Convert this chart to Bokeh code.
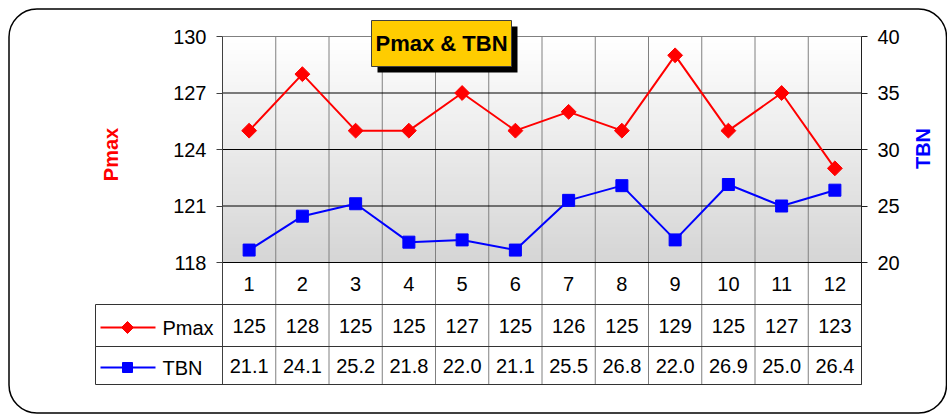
import numpy as np
from bokeh.plotting import figure
from bokeh.models import (Range1d, LinearAxis, FixedTicker, Label, BoxAnnotation,
                          ColumnDataSource)
from bokeh.core.properties import value
from bokeh.embed import file_html
from bokeh.resources import INLINE

# ---------------- data ----------------
categories = ["1", "2", "3", "4", "5", "6", "7", "8", "9", "10", "11", "12"]
pmax = [125, 128, 125, 125, 127, 125, 126, 125, 129, 125, 127, 123]
tbn = [21.1, 24.1, 25.2, 21.8, 22.0, 21.1, 25.5, 26.8, 22.0, 26.9, 25.0, 26.4]
pmax_ticks = [118, 121, 124, 127, 130]
tbn_ticks = [20, 25, 30, 35, 40]
title_text = "Pmax & TBN"
series_names = ["Pmax", "TBN"]
series_colors = ["#FF0000", "#0000FF"]

# ---------------- layout (page pixels) / style ----------------
FONT = "Liberation Sans"
W, H = 947, 415
PX_L, PX_R, PY_T, PY_B = 222, 861, 36, 262      # plot area
Y_CAT, Y_P, Y_T = 304, 346, 384                  # bottoms of the table rows
LEG_L = 95                                       # left edge of legend column

n = len(categories)
xs = list(range(1, n + 1))
p_lo, p_hi = pmax_ticks[0], pmax_ticks[-1]
t_lo, t_hi = tbn_ticks[0], tbn_ticks[-1]
CW = (PX_R - PX_L) / n
PPU = (PY_B - PY_T) / (p_hi - p_lo)
TPU = (PY_B - PY_T) / (t_hi - t_lo)


def py(y):
    """page y (top-down) -> 'py' range value (bottom-up)"""
    return H - y


x_range = Range1d(0.5 - PX_L / CW, 0.5 + (W - PX_L) / CW)
y_range = Range1d(p_hi - (H - PY_T) / PPU, p_hi + PY_T / PPU)

p = figure(width=W, height=H, x_range=x_range, y_range=y_range,
           output_backend="svg", toolbar_location=None, x_axis_location=None,
           min_border=0, background_fill_color="white",
           border_fill_color="white", outline_line_color=None)
p.extra_y_ranges = {"tbn": Range1d(t_hi - (H - PY_T) / TPU, t_hi + PY_T / TPU),
                    "py": Range1d(0, H)}
p.extra_x_ranges = {"px": Range1d(0, W)}
p.grid.visible = False

# left axis (fixed at the plot area's left edge)
ya = p.yaxis[0]
ya.fixed_location = 0.5
ya.bounds = (p_hi - (Y_T - PY_T) / PPU, p_hi)
ya.ticker = FixedTicker(ticks=pmax_ticks)
ya.major_tick_in = 0
ya.major_tick_out = 6
ya.minor_tick_line_color = None
ya.major_label_standoff = 10
ya.major_label_text_font = FONT
ya.major_label_text_font_size = "20px"
ya.major_label_text_color = "black"
ya.axis_line_color = "#404040"
ya.major_tick_line_color = "#404040"

ra = LinearAxis(y_range_name="tbn", ticker=FixedTicker(ticks=tbn_ticks),
                fixed_location=n + 0.5, bounds=(t_hi - (Y_T - PY_T) / TPU, t_hi),
                major_tick_in=0, major_tick_out=6, minor_tick_line_color=None,
                major_label_standoff=10, major_label_text_font=FONT,
                major_label_text_font_size="20px", major_label_text_color="black",
                axis_line_color="#202020", major_tick_line_color="#202020")
p.add_layout(ra, "right")

# gradient background of plot area
N = 64
g = np.linspace(214, 255, N).astype(np.uint8)
img = np.empty((N, 1), dtype=np.uint32)
view = img.view(dtype=np.uint8).reshape((N, 1, 4))
view[:, 0, 0] = g
view[:, 0, 1] = g
view[:, 0, 2] = g
view[:, 0, 3] = 255
p.image_rgba(image=[img], x=0.5, y=p_lo, dw=n, dh=p_hi - p_lo, level="image")

# grid lines
bounds = [i + 0.5 for i in range(1, n)]
p.segment(x0=bounds, x1=bounds, y0=[py(Y_T)] * len(bounds), y1=[py(PY_T)] * len(bounds),
          y_range_name="py", line_color="#808080", line_width=1)
inner = pmax_ticks[:-1]
p.segment(x0=[0.5] * len(inner), x1=[n + 0.5] * len(inner), y0=inner, y1=inner,
          line_color="black", line_width=1)
p.segment(x0=[0.5], x1=[n + 0.5], y0=[p_hi], y1=[p_hi], line_color="#808080", line_width=1)

# series
src = ColumnDataSource(dict(x=xs, pmax=pmax, tbn=tbn))
p.line("x", "pmax", source=src, line_color=series_colors[0], line_width=2)
p.scatter("x", "pmax", source=src, marker="square", angle=np.pi / 4, size=10.5,
          fill_color=series_colors[0], line_color=series_colors[0])
p.line("x", "tbn", source=src, y_range_name="tbn", line_color=series_colors[1], line_width=2)
p.scatter("x", "tbn", source=src, y_range_name="tbn", marker="square", size=12,
          fill_color=series_colors[1], line_color=series_colors[1])

# data table
txt = dict(text_font=value(FONT), text_font_size=value("20px"), text_color="black",
           text_align="center", text_baseline="middle", y_range_name="py")
p.text(x=xs, y=[py((PY_B + Y_CAT) / 2)] * n, text=categories, **txt)
p.text(x=xs, y=[py((Y_CAT + Y_P) / 2)] * n, text=[str(v) for v in pmax], **txt)
p.text(x=xs, y=[py((Y_P + Y_T) / 2)] * n, text=[f"{v:.1f}" for v in tbn], **txt)

for top, bot in [(Y_CAT, Y_P), (Y_P, Y_T)]:
    p.add_layout(BoxAnnotation(left=LEG_L, right=PX_R, bottom=py(bot), top=py(top),
                               x_range_name="px", y_range_name="py",
                               fill_color=None, fill_alpha=0,
                               line_color="#333333", line_width=1, line_alpha=1))

# legend keys inside the data table
key_y = [py(327), py(367)]
p.segment(x0=[100, 100], x1=[155, 155], y0=key_y, y1=key_y, x_range_name="px",
          y_range_name="py", line_color=series_colors, line_width=2)
p.scatter(x=[127], y=[key_y[0]], x_range_name="px", y_range_name="py", marker="square",
          angle=np.pi / 4, size=8.5, fill_color=series_colors[0], line_color=series_colors[0])
p.scatter(x=[127], y=[key_y[1]], x_range_name="px", y_range_name="py", marker="square",
          size=10, fill_color=series_colors[1], line_color=series_colors[1])
p.text(x=[162, 162], y=key_y, text=series_names, x_range_name="px", y_range_name="py",
       text_font=value(FONT), text_font_size=value("20px"), text_color="black",
       text_align="left", text_baseline="middle")

# axis titles
p.add_layout(Label(x=110, y=py(154), x_range_name="px", y_range_name="py",
                   text=series_names[0], angle=np.pi / 2,
                   text_align="center", text_baseline="middle", text_font=FONT,
                   text_font_size="20px", text_font_style="bold", text_color=series_colors[0]))
p.add_layout(Label(x=922, y=py(148), x_range_name="px", y_range_name="py",
                   text=series_names[1], angle=np.pi / 2,
                   text_align="center", text_baseline="middle", text_font=FONT,
                   text_font_size="20px", text_font_style="bold", text_color=series_colors[1]))

# title box with shadow
p.add_layout(BoxAnnotation(left=377, right=517, top=py(26), bottom=py(72), x_range_name="px",
                           y_range_name="py", fill_color="black", fill_alpha=1,
                           line_color=None))
p.add_layout(BoxAnnotation(left=371, right=511, top=py(20), bottom=py(66), x_range_name="px",
                           y_range_name="py", fill_color="#FFCC00", fill_alpha=1,
                           line_color="#404040", line_width=1, line_alpha=1))
p.add_layout(Label(x=441, y=py(43), x_range_name="px", y_range_name="py", text=title_text,
                   text_align="center", text_baseline="middle", text_font=FONT,
                   text_font_size="22px", text_font_style="bold", text_color="black"))

# outer rounded border
p.add_layout(BoxAnnotation(left=8.5, right=946, top=py(8.5), bottom=py(412.5),
                           x_range_name="px", y_range_name="py", fill_color=None,
                           fill_alpha=0, line_color="black", line_width=1.5, line_alpha=1,
                           border_radius=28))

open("out.html", "w").write(file_html(p, INLINE))
